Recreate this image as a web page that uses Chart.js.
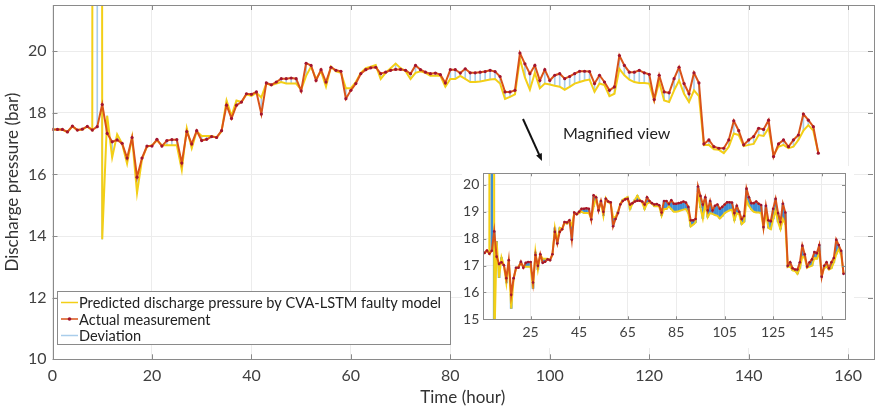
<!DOCTYPE html>
<html>
<head>
<meta charset="utf-8">
<script src="https://cdn.jsdelivr.net/npm/chart.js@4.4.1/dist/chart.umd.min.js"></script>
<style>
  html, body { margin: 0; padding: 0; background: #fff; }
  #wrap { position: relative; width: 880px; height: 412px; }
  #mainChart { position: absolute; left: 0; top: 0; }
  #insetChart { position: absolute; left: 462px; top: 166px; background: #fff; }
</style>
</head>
<body>
<div id="wrap">
  <canvas id="mainChart" width="880" height="412"></canvas>
  <canvas id="insetChart" width="392" height="182"></canvas>
</div>
<script>
// time of each sample (hour)
const hours = [
  0, 1, 2, 3, 4, 5, 6, 7, 8, 9,
  10, 11, 12, 13, 14, 15, 16, 17, 18, 19,
  20, 21, 22, 23, 24, 25, 26, 27, 28, 29,
  30, 31, 32, 33, 34, 35, 36, 37, 38, 39,
  40, 41, 42, 43, 44, 45, 46, 47, 48, 49,
  50, 51, 52, 53, 54, 55, 56, 57, 58, 59,
  60, 61, 62, 63, 64, 65, 66, 67, 68, 69,
  70, 71, 72, 73, 74, 75, 76, 77, 78, 79,
  80, 81, 82, 83, 84, 85, 86, 87, 88, 89,
  90, 91, 92, 93, 94, 95, 96, 97, 98, 99,
  100, 101, 102, 103, 104, 105, 106, 107, 108, 109,
  110, 111, 112, 113, 114, 115, 116, 117, 118, 119,
  120, 121, 122, 123, 124, 125, 126, 127, 128, 129,
  130, 131, 132, 133, 134, 135, 136, 137, 138, 139,
  140, 141, 142, 143, 144, 145, 146, 147, 148, 149,
  150, 151, 152, 153, 154
];

// actual measurement (bar)
const actual = [
  17.46, 17.46, 17.46, 17.38, 17.57, 17.44, 17.47, 17.56, 17.44, 17.55,
  18.27, 17.33, 17.06, 17.12, 17.01, 16.53, 17.2, 15.91, 16.53, 16.92,
  16.92, 17.14, 16.92, 17.1, 17.13, 17.13, 16.37, 17.39, 16.99, 17.42,
  17.1, 17.14, 17.23, 17.2, 17.42, 18.25, 17.82, 18.25, 18.35, 18.62,
  18.6, 18.68, 17.96, 18.97, 18.91, 19.0, 19.11, 19.11, 19.13, 19.11,
  18.71, 19.61, 19.54, 19.05, 19.4, 19.0, 19.48, 19.38, 19.35, 18.46,
  18.73, 18.95, 19.27, 19.4, 19.46, 19.48, 19.27, 19.32, 19.38, 19.41,
  19.41, 19.38, 19.27, 19.54, 19.4, 19.32, 19.27, 19.29, 19.24, 18.97,
  19.4, 19.4, 19.29, 19.43, 19.3, 19.3, 19.32, 19.34, 19.38, 19.34,
  19.18, 18.68, 18.68, 18.73, 19.94, 19.59, 19.27, 19.54, 19.05, 19.4,
  19.05, 19.22, 19.27, 19.11, 19.18, 19.27, 19.35, 19.35, 19.34, 18.95,
  19.22, 19.0, 18.73, 18.84, 19.86, 19.54, 19.32, 19.32, 19.38, 19.3,
  19.25, 18.43, 19.22, 18.68, 18.65, 19.11, 19.48, 18.95, 18.62, 19.3,
  18.97, 16.99, 17.12, 16.9, 16.85, 16.85, 17.12, 17.74, 17.42, 16.96,
  17.12, 17.23, 17.5, 17.46, 17.76, 16.58, 16.99, 17.12, 16.9, 17.12,
  17.28, 17.96, 17.76, 17.55, 16.69
];

// predicted by CVA-LSTM faulty model (bar), spike at hour 9 goes off the axis
const predicted = [
  17.46, 17.46, 17.45, 17.38, 17.56, 17.44, 17.46, 17.55, 17.44, 400.0,
  13.9, 17.9, 16.55, 17.3, 17.0, 16.35, 17.2, 15.4, 16.5, 16.9,
  16.95, 17.1, 16.95, 16.95, 16.95, 16.95, 16.15, 17.5, 16.85, 17.4,
  17.25, 17.25, 17.25, 17.2, 17.4, 18.4, 17.9, 18.4, 18.35, 18.6,
  18.55, 18.65, 18.5, 18.95, 18.9, 18.95, 19.0, 18.95, 18.95, 18.95,
  18.75, 19.2, 19.5, 19.1, 19.35, 18.85, 19.5, 19.35, 19.3, 18.8,
  18.8, 19.0, 19.3, 19.45, 19.5, 19.55, 19.1, 19.3, 19.45, 19.6,
  19.45, 19.35, 19.1, 19.3, 19.35, 19.3, 19.2, 19.2, 19.2, 18.85,
  19.1, 19.1, 19.2, 19.1, 19.0, 19.0, 19.02, 19.05, 19.08, 19.1,
  18.95, 18.45, 18.52, 18.6, 19.75, 19.15, 18.75, 19.3, 18.8, 18.95,
  18.92, 18.88, 18.85, 18.75, 18.84, 18.95, 19.0, 19.05, 19.08, 18.68,
  18.95, 18.9, 18.54, 18.62, 19.43, 19.22, 19.08, 19.0, 18.97, 18.97,
  18.95, 18.4, 19.0, 18.4, 18.35, 18.73, 19.05, 18.62, 18.35, 18.73,
  18.54, 16.95, 16.96, 16.82, 16.8, 16.69, 16.9, 17.33, 17.28, 16.92,
  16.96, 16.99, 17.28, 17.25, 17.5, 16.63, 16.9, 16.96, 16.85, 16.9,
  17.12, 17.42, 17.6, 17.42, 16.7
];

const mainXTicks = [0, 20, 40, 60, 80, 100, 120, 140, 160];
const mainYTicks = [10, 12, 14, 16, 18, 20];
const insetXTicks = [25, 45, 65, 85, 105, 125, 145];
const insetYTicks = [15, 16, 17, 18, 19, 20];

const FONT = "Lato, 'Open Sans', sans-serif";
const RED = "#d95319";
const YELLOW = "#f3cf17";

function toPoints(values) {
  return hours.map((h, i) => ({ x: h, y: values[i] }));
}
function toGaps() {
  return hours.map((h, i) => ({ x: h, y: [predicted[i], actual[i]] }));
}
// keep the plot box where it is, whatever the tick labels want
function noPad(s) {
  s.paddingTop = 0; s.paddingBottom = 0; s.paddingLeft = 0; s.paddingRight = 0;
}

// MATLAB-like box with inner ticks
const boxPlugin = {
  id: "boxPlugin",
  afterDatasetsDraw(chart, args, opts) {
    const { ctx, chartArea: a, scales } = chart;
    ctx.save();
    ctx.strokeStyle = "#8a8a8a";
    ctx.lineWidth = 1;
    ctx.strokeRect(Math.round(a.left) + 0.5, Math.round(a.top) + 0.5,
      Math.round(a.right - a.left), Math.round(a.bottom - a.top));
    const len = opts.tick || 5;
    ctx.beginPath();
    scales.x.ticks.forEach(t => {
      const px = Math.round(scales.x.getPixelForValue(t.value)) + 0.5;
      ctx.moveTo(px, a.bottom); ctx.lineTo(px, a.bottom - len);
      ctx.moveTo(px, a.top); ctx.lineTo(px, a.top + len);
    });
    scales.y.ticks.forEach(t => {
      const py = Math.round(scales.y.getPixelForValue(t.value)) + 0.5;
      ctx.moveTo(a.left, py); ctx.lineTo(a.left + len, py);
      ctx.moveTo(a.right, py); ctx.lineTo(a.right - len, py);
    });
    ctx.stroke();
    ctx.restore();
  }
};

// legend box in the lower left + the "Magnified view" note
const notesPlugin = {
  id: "notesPlugin",
  afterDraw(chart) {
    const ctx = chart.ctx;
    ctx.save();
    ctx.fillStyle = "#fff";
    ctx.fillRect(57, 291, 393, 53);
    ctx.strokeStyle = "#8a8a8a";
    ctx.lineWidth = 1;
    ctx.strokeRect(57.5, 291.5, 393, 53);
    const rows = [302.5, 319, 335.5];
    ctx.font = "14.6px " + FONT;
    ctx.textBaseline = "middle";
    chart.data.datasets.forEach((ds, i) => {
      const y = rows[i];
      ctx.strokeStyle = ds.legendColor;
      ctx.lineWidth = 1.5;
      ctx.beginPath();
      ctx.moveTo(61, y); ctx.lineTo(78, y);
      ctx.stroke();
      if (ds.pointRadius) {
        ctx.fillStyle = ds.pointBackgroundColor;
        ctx.beginPath();
        ctx.arc(69.5, y, 1.8, 0, Math.PI * 2);
        ctx.fill();
      }
      ctx.fillStyle = "#222";
      ctx.fillText(ds.label, 79, y + 1);
    });

    // arrow pointing to the inset
    ctx.strokeStyle = "#111";
    ctx.fillStyle = "#111";
    ctx.lineWidth = 2;
    const x1 = 523, y1 = 119, x2 = 542, y2 = 161;
    const ang = Math.atan2(y2 - y1, x2 - x1);
    ctx.beginPath();
    ctx.moveTo(x1, y1);
    ctx.lineTo(x2 - 5 * Math.cos(ang), y2 - 5 * Math.sin(ang));
    ctx.stroke();
    ctx.beginPath();
    ctx.moveTo(x2, y2);
    ctx.lineTo(x2 - 8 * Math.cos(ang - 0.4), y2 - 8 * Math.sin(ang - 0.4));
    ctx.lineTo(x2 - 8 * Math.cos(ang + 0.4), y2 - 8 * Math.sin(ang + 0.4));
    ctx.closePath();
    ctx.fill();
    ctx.font = "16px " + FONT;
    ctx.fillStyle = "#222";
    ctx.fillText("Magnified view", 563, 134);
    ctx.restore();
  }
};

new Chart(document.getElementById("mainChart"), {
  type: "line",
  data: {
    datasets: [
      {
        label: "Predicted discharge pressure by CVA-LSTM faulty model",
        data: toPoints(predicted),
        borderColor: YELLOW,
        legendColor: YELLOW,
        borderWidth: 2,
        pointRadius: 0,
        tension: 0,
        order: 1
      },
      {
        label: "Actual measurement",
        data: toPoints(actual),
        borderColor: RED,
        legendColor: RED,
        borderWidth: 2,
        pointRadius: 1.6,
        pointBorderWidth: 0,
        pointBackgroundColor: "#a2142f",
        tension: 0,
        order: 0
      },
      {
        type: "bar",
        label: "Deviation",
        data: toGaps(),
        backgroundColor: "#a9cdeb",
        legendColor: "#a9cdeb",
        barThickness: 1,
        borderWidth: 0,
        order: 2
      }
    ]
  },
  options: {
    responsive: false,
    animation: false,
    devicePixelRatio: 1,
    layout: { padding: { top: 5, right: 7, left: 0, bottom: 0 } },
    plugins: { legend: { display: false }, tooltip: { enabled: false }, boxPlugin: { tick: 5 } },
    scales: {
      x: {
        type: "linear",
        min: 0,
        max: 165,
        offset: false,
        afterBuildTicks: s => { s.ticks = mainXTicks.map(v => ({ value: v })); },
        afterFit: s => { s.height = 52.7; noPad(s); },
        grid: { color: "#ececec", drawTicks: false, offset: false },
        border: { display: false },
        ticks: { color: "#404040", font: { family: FONT, size: 16 }, padding: 7, maxRotation: 0 },
        title: { display: true, text: "Time (hour)", color: "#333", font: { family: FONT, size: 17 }, padding: { top: 0, bottom: 4 } }
      },
      y: {
        type: "linear",
        min: 10,
        max: 21.5,
        afterBuildTicks: s => { s.ticks = mainYTicks.map(v => ({ value: v })); },
        afterFit: s => { s.width = 52.5; noPad(s); },
        grid: { color: "#ececec", drawTicks: false },
        border: { display: false },
        ticks: { color: "#404040", font: { family: FONT, size: 16 }, padding: 6 },
        title: { display: true, text: "Discharge pressure (bar)", color: "#333", font: { family: FONT, size: 17 }, padding: { top: 2, bottom: 0 } }
      }
    }
  },
  plugins: [boxPlugin, notesPlugin]
});

new Chart(document.getElementById("insetChart"), {
  type: "line",
  data: {
    datasets: [
      {
        label: "Predicted",
        data: toPoints(predicted),
        borderColor: YELLOW,
        borderWidth: 2,
        pointRadius: 0,
        tension: 0,
        order: 1
      },
      {
        label: "Actual",
        data: toPoints(actual),
        borderColor: RED,
        borderWidth: 2,
        pointRadius: 1.3,
        pointBorderWidth: 0,
        pointBackgroundColor: "#a2142f",
        tension: 0,
        order: 0
      },
      {
        type: "bar",
        label: "Deviation",
        data: toGaps(),
        backgroundColor: "#3d8fd6",
        barThickness: 2,
        borderWidth: 0,
        order: 2
      }
    ]
  },
  options: {
    responsive: false,
    animation: false,
    devicePixelRatio: 1,
    layout: { padding: { top: 7.3, right: 9, left: 0, bottom: 0 } },
    plugins: { legend: { display: false }, tooltip: { enabled: false }, boxPlugin: { tick: 3 } },
    scales: {
      x: {
        type: "linear",
        min: 5.5,
        max: 154.6,
        offset: false,
        afterBuildTicks: s => { s.ticks = insetXTicks.map(v => ({ value: v })); },
        afterFit: s => { s.height = 28.7; noPad(s); },
        grid: { color: "#ececec", drawTicks: false, offset: false },
        border: { display: false },
        ticks: { color: "#404040", font: { family: FONT, size: 14 }, padding: 5, maxRotation: 0 }
      },
      y: {
        type: "linear",
        min: 15,
        max: 20.43,
        afterBuildTicks: s => { s.ticks = insetYTicks.map(v => ({ value: v })); },
        afterFit: s => { s.width = 21.3; noPad(s); },
        grid: { color: "#ececec", drawTicks: false },
        border: { display: false },
        ticks: { color: "#404040", font: { family: FONT, size: 14 }, padding: 4 }
      }
    }
  },
  plugins: [boxPlugin]
});
</script>
</body>
</html>
